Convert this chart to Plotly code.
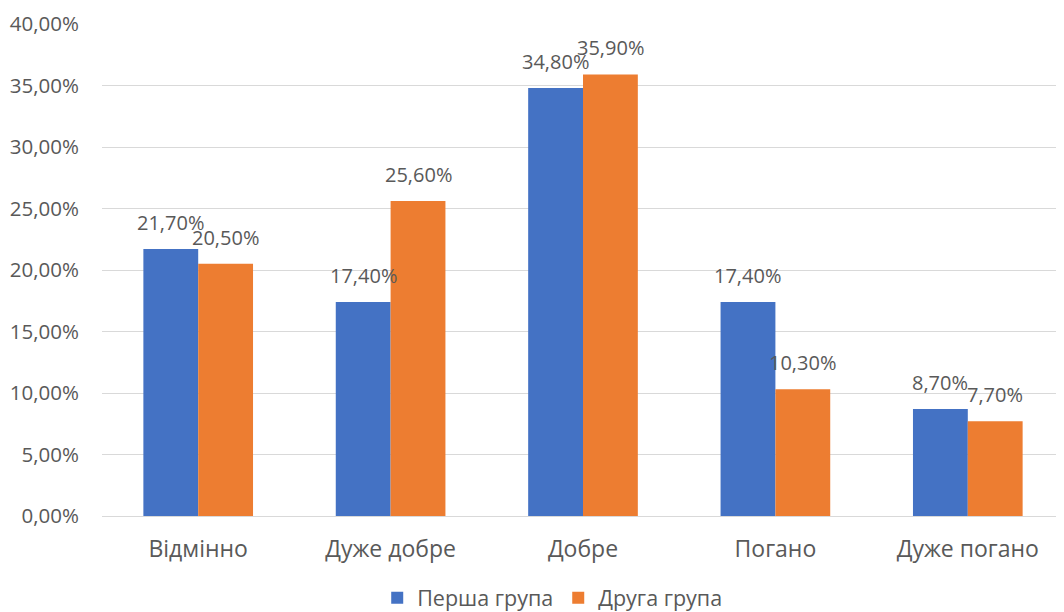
import plotly.graph_objects as go

categories = ["Відмінно", "Дуже добре", "Добре", "Погано", "Дуже погано"]
group1 = [0.217, 0.174, 0.348, 0.174, 0.087]
group2 = [0.205, 0.256, 0.359, 0.103, 0.077]
series_names = ["Перша група", "Друга група"]
colors = ["#4472C4", "#ED7D31"]

FONT = "Open Sans, Noto Sans, sans-serif"
GRAY = "#595959"

fig = go.Figure()
for name, vals, col in zip(series_names, [group1, group2], colors):
    fig.add_trace(go.Bar(
        x=categories, y=vals, name=name,
        marker=dict(color=col, line=dict(width=0)),
    ))

# data labels above each bar (shifted left/right onto its bar in the group)
BAR_HALF_PX = 27.5
for i, vals in enumerate([group1, group2]):
    shift = -BAR_HALF_PX if i == 0 else BAR_HALF_PX
    for cat, v in zip(categories, vals):
        fig.add_annotation(
            x=cat, y=v, xref="x", yref="y",
            text=f"{v * 100:.2f}%".replace(".", ","),
            showarrow=False, xshift=shift, yanchor="bottom", yshift=11,
            font=dict(family=FONT, size=20, color=GRAY),
        )

# page body has an 8px margin, so the figure is 8px smaller and margins shifted
fig.update_layout(
    width=1056, height=604,
    margin=dict(l=94, r=0, t=16, b=96, autoexpand=False),
    paper_bgcolor="white", plot_bgcolor="white",
    separators=", ",
    barmode="group", bargap=0.43, bargroupgap=0,
    font=dict(family=FONT, color=GRAY),
    legend=dict(orientation="h", x=0.468, xanchor="center", y=-0.166, yanchor="middle",
                font=dict(family=FONT, size=21.5, color=GRAY), itemsizing="constant",
                traceorder="normal"),
    xaxis=dict(showgrid=False, showline=False, automargin=False,
               tickfont=dict(family=FONT, size=23, color=GRAY),
               ticklabelstandoff=17),
    yaxis=dict(range=[0, 0.4], dtick=0.05, tickformat=".2%", automargin=False,
               showgrid=True, gridcolor="#D9D9D9", gridwidth=1.3,
               zeroline=True, zerolinecolor="#D9D9D9", zerolinewidth=1.3,
               showline=False, tickfont=dict(family=FONT, size=20.5, color=GRAY),
               ticklabelstandoff=22),
)

fig.write_html("out.html")
